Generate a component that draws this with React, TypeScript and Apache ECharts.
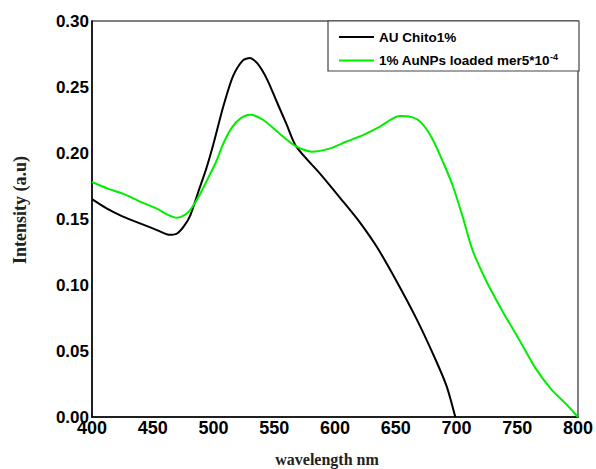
import React, { useEffect, useRef } from "react";
import * as echarts from "echarts";

const xTicks = [400, 450, 500, 550, 600, 650, 700, 750, 800];
const yTicks = [0, 0.05, 0.1, 0.15, 0.2, 0.25, 0.3];

const seriesNames = ["AU Chito1%", "1% AuNPs loaded mer5*10-4"];

const blackWl = [400, 412, 425, 440, 455, 464, 470, 476, 481, 488, 494, 500, 508, 516, 524, 530, 536, 544, 552, 560, 568, 588, 606, 620, 635, 650, 667, 683, 692, 699];
const blackVal = [0.165, 0.158, 0.152, 0.1465, 0.141, 0.138, 0.139, 0.145, 0.153, 0.172, 0.188, 0.207, 0.235, 0.258, 0.27, 0.272, 0.268, 0.256, 0.239, 0.222, 0.205, 0.184, 0.164, 0.148, 0.128, 0.104, 0.0745, 0.043, 0.023, 0.0];

const greenWl = [400, 413, 426, 440, 453, 463, 470, 476, 481, 489, 495, 502, 508, 515, 522, 530, 541, 554, 568, 581, 596, 609, 623, 637, 653, 664, 671, 680, 689, 697, 705, 713, 724, 738, 752, 765, 778, 790, 800];
const greenVal = [0.178, 0.173, 0.169, 0.163, 0.158, 0.153, 0.151, 0.153, 0.157, 0.169, 0.18, 0.193, 0.207, 0.219, 0.226, 0.229, 0.225, 0.215, 0.205, 0.201, 0.2035, 0.2085, 0.2135, 0.22, 0.228, 0.227, 0.223, 0.211, 0.193, 0.175, 0.152, 0.127, 0.104, 0.08, 0.058, 0.037, 0.021, 0.01, 0.0];

export default function App() {
  const ref = useRef<HTMLDivElement>(null);
  useEffect(() => {
    if (!ref.current) return;
    const chart = echarts.init(ref.current, null, { renderer: "svg" });
    const sans = "'Liberation Sans', Arial, sans-serif";
    const serif = "'Liberation Serif', 'Times New Roman', serif";
    chart.setOption({
      animation: false,
      backgroundColor: "#fff",
      grid: {
        left: 92,
        right: 17,
        top: 21,
        bottom: 52,
        show: true,
        borderColor: "#555",
        borderWidth: 1.5,
        backgroundColor: "transparent",
      },
      xAxis: {
        type: "value",
        min: xTicks[0],
        max: xTicks[xTicks.length - 1],
        interval: 50,
        axisLine: { show: true, lineStyle: { color: "#000", width: 1.5 } },
        axisTick: { show: false },
        splitLine: { show: false },
        axisLabel: {
          color: "#000",
          fontFamily: sans,
          fontWeight: "bold",
          fontSize: 18,
          margin: 2,
        },
      },
      yAxis: {
        type: "value",
        min: yTicks[0],
        max: yTicks[yTicks.length - 1],
        interval: 0.05,
        axisLine: { show: true, lineStyle: { color: "#000", width: 1.5 } },
        axisTick: { show: false },
        splitLine: { show: false },
        axisLabel: {
          color: "#000",
          fontFamily: sans,
          fontWeight: "bold",
          fontSize: 17,
          margin: 3,
          formatter: (v: number) => v.toFixed(2),
        },
      },
      legend: {
        left: 334,
        top: 25,
        orient: "vertical",
        icon: "rect",
        itemWidth: 35,
        itemHeight: 2,
        itemGap: 8,
        data: seriesNames,
        formatter: (name: string) =>
          name === seriesNames[1]
            ? "{t|1% AuNPs loaded mer5*10}{s|-4}"
            : "{t|" + name + "}",
        textStyle: {
          rich: {
            t: { fontFamily: sans, fontWeight: "bold", fontSize: 13.5, color: "#000", lineHeight: 17 },
            s: { fontFamily: sans, fontWeight: "bold", fontSize: 9, color: "#000", verticalAlign: "top", lineHeight: 10 },
          },
        },
      },
      graphic: [
        {
          type: "rect",
          shape: { x: 328, y: 21, width: 251, height: 50 },
          style: { fill: "#fff", stroke: "#444", lineWidth: 1.2 },
          z: 1,
        },
        {
          type: "text",
          x: 327,
          y: 459,
          style: {
            text: "wavelength nm",
            font: "bold 16px " + serif,
            fill: "#222",
            align: "center",
            verticalAlign: "middle",
          },
        },
        {
          type: "text",
          x: 20,
          y: 210,
          rotation: Math.PI / 2,
          style: {
            text: "Intensity (a.u)",
            font: "bold 18px " + serif,
            fill: "#222",
            align: "center",
            verticalAlign: "middle",
          },
        },
      ],
      series: [
        {
          name: seriesNames[0],
          type: "line",
          data: blackWl.map((w, i) => [w, blackVal[i]]),
          showSymbol: false,
          symbol: "none",
          smooth: 0.25,
          lineStyle: { color: "#000", width: 2 },
          itemStyle: { color: "#000" },
          z: 3,
        },
        {
          name: seriesNames[1],
          type: "line",
          data: greenWl.map((w, i) => [w, greenVal[i]]),
          showSymbol: false,
          symbol: "none",
          smooth: 0.25,
          lineStyle: { color: "#00ee00", width: 2 },
          itemStyle: { color: "#00ee00" },
          z: 3,
        },
      ],
    });
    return () => chart.dispose();
  }, []);
  return <div ref={ref} style={{ width: 596, height: 469, position: "absolute", left: 0, top: 0 }} />;
}
